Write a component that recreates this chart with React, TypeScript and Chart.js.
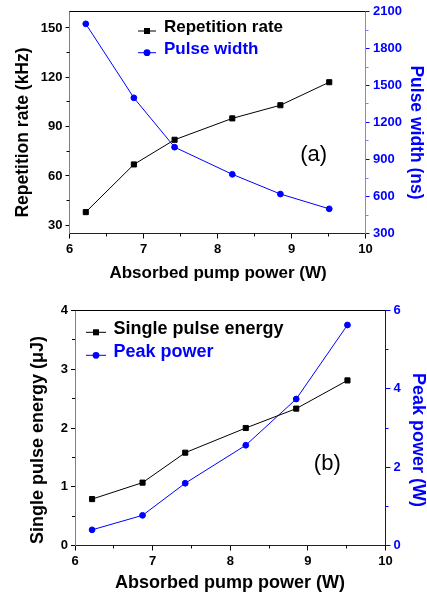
import React, { useEffect, useRef } from "react";
import { Chart, registerables } from "chart.js";

Chart.register(...registerables);

const FONT = "'Liberation Sans', Arial, Helvetica, sans-serif";
const BLUE = "#0000FF";

// ---- data ----
const pumpPower = [6.22, 6.87, 7.42, 8.2, 8.85, 9.51];
const repetitionRate = [38, 67, 82, 95, 103, 117];
const pulseWidth = [2000, 1400, 1000, 780, 620, 500];
const pulseEnergy = [0.79, 1.07, 1.58, 2.0, 2.33, 2.81];
const peakPower = [0.4, 0.77, 1.59, 2.56, 3.74, 5.63];

// ---- tick labels ----
const xTicks = [6, 7, 8, 9, 10];
const repTicks = [30, 60, 90, 120, 150];
const widthTicks = [300, 600, 900, 1200, 1500, 1800, 2100];
const energyTicks = [0, 1, 2, 3, 4];
const peakTicks = [0, 2, 4, 6];

const pts = (xs: number[], ys: number[]) => xs.map((x, i) => ({ x, y: ys[i] }));

const midpoints = (t: number[], min: number, max: number) => {
  const out: number[] = [];
  const step = t[1] - t[0];
  for (let v = t[0] - step / 2; v <= max + 1e-9; v += step) {
    if (v >= min - 1e-9) {
      if (!t.some((q) => Math.abs(q - v) < 1e-9)) out.push(v);
    }
  }
  return out;
};

const decorPlugin = {
  id: "decor",
  afterDraw(chart: any, _args: any, opts: any) {
    const { ctx, chartArea: a, scales } = chart;
    ctx.save();
    // top frame line
    ctx.strokeStyle = opts.topColor || "#000";
    ctx.lineWidth = 1;
    const ty = Math.floor(a.top) + 0.5;
    ctx.beginPath();
    ctx.moveTo(a.left, ty);
    ctx.lineTo(a.right, ty);
    ctx.stroke();

    // minor ticks
    (opts.minor || []).forEach((m: any) => {
      const s = scales[m.id];
      ctx.strokeStyle = m.color;
      ctx.lineWidth = 1;
      m.values.forEach((v: number) => {
        const p = Math.floor(s.getPixelForValue(v)) + 0.5;
        ctx.beginPath();
        if (m.side === "bottom") {
          ctx.moveTo(p, a.bottom);
          ctx.lineTo(p, a.bottom + m.len);
        } else if (m.side === "left") {
          ctx.moveTo(a.left - m.len, p);
          ctx.lineTo(a.left, p);
        } else {
          ctx.moveTo(a.right, p);
          ctx.lineTo(a.right + m.len, p);
        }
        ctx.stroke();
      });
    });

    // axis titles
    (opts.titles || []).forEach((t: any) => {
      ctx.save();
      ctx.translate(t.x, t.y);
      ctx.rotate((t.rot * Math.PI) / 180);
      ctx.font = `bold ${t.size}px ${FONT}`;
      ctx.fillStyle = t.color;
      ctx.textAlign = "center";
      ctx.textBaseline = "middle";
      ctx.fillText(t.text, 0, 0);
      ctx.restore();
    });

    // legend
    const lg = opts.legend;
    if (lg) {
      chart.data.datasets.forEach((ds: any, i: number) => {
        const r = lg.rows[i];
        ctx.strokeStyle = ds.borderColor;
        ctx.lineWidth = 1;
        ctx.beginPath();
        ctx.moveTo(lg.x1, r.y);
        ctx.lineTo(lg.x2, r.y);
        ctx.stroke();
        ctx.fillStyle = ds.backgroundColor;
        const cx = (lg.x1 + lg.x2) / 2;
        if (ds.pointStyle === "rect") {
          ctx.fillRect(cx - 3, r.y - 3, 6, 6);
        } else {
          ctx.beginPath();
          ctx.arc(cx, r.y, 3.4, 0, Math.PI * 2);
          ctx.fill();
        }
        ctx.font = `bold ${lg.size}px ${FONT}`;
        ctx.fillStyle = ds.borderColor;
        ctx.textAlign = "left";
        ctx.textBaseline = "middle";
        ctx.fillText(ds.label, lg.textX, r.textY);
      });
    }

    // panel label
    const n = opts.note;
    if (n) {
      const px = scales.x.getPixelForValue(n.x);
      const py = scales.y.getPixelForValue(n.y);
      ctx.font = `${n.size}px ${FONT}`;
      ctx.fillStyle = "#000";
      ctx.textAlign = "center";
      ctx.textBaseline = "middle";
      ctx.fillText(n.text, px, py);
    }
    ctx.restore();
  },
};

const tickFont = { family: FONT, size: 13, weight: "bold" as const };

function makeAxis(opts: {
  position: string;
  min: number;
  max: number;
  ticks: number[];
  color: string;
  borderColor: string;
  size: number;
  tickLen: number;
  pad: number;
}) {
  const isX = opts.position === "bottom";
  return {
    type: "linear",
    position: opts.position,
    min: opts.min,
    max: opts.max,
    afterBuildTicks: (s: any) => {
      s.ticks = opts.ticks.map((v) => ({ value: v }));
    },
    afterFit: (s: any) => {
      if (isX) s.height = opts.size;
      else s.width = opts.size;
    },
    ticks: {
      color: opts.color,
      font: tickFont,
      padding: opts.pad,
      maxRotation: 0,
      autoSkip: false,
      callback: (v: any) => String(v),
    },
    grid: {
      display: true,
      drawOnChartArea: false,
      drawTicks: true,
      tickLength: opts.tickLen,
      tickColor: opts.color,
      tickWidth: 1,
    },
    border: { display: true, color: opts.borderColor, width: 1 },
    title: { display: false },
  };
}

function Panel(props: { config: any; top: number; height: number }) {
  const ref = useRef<HTMLCanvasElement | null>(null);
  useEffect(() => {
    if (!ref.current) return;
    const chart = new Chart(ref.current, props.config);
    return () => chart.destroy();
  }, []);
  return (
    <div style={{ position: "absolute", left: 0, top: props.top, width: 427, height: props.height }}>
      <canvas ref={ref} width={427} height={props.height} style={{ width: 427, height: props.height, display: "block" }} />
    </div>
  );
}

const lineDs = (label: string, data: any[], color: string, style: string, axis: string) => ({
  label,
  data,
  yAxisID: axis,
  borderColor: color,
  backgroundColor: color,
  borderWidth: 1,
  pointStyle: style,
  pointRadius: style === "rect" ? 3.6 : 2.9,
  pointBorderWidth: 1,
  pointBorderColor: color,
  pointBackgroundColor: color,
  tension: 0,
  fill: false,
});

const configA = {
  type: "line",
  data: {
    datasets: [
      lineDs("Repetition rate", pts(pumpPower, repetitionRate), "#000000", "rect", "y"),
      lineDs("Pulse width", pts(pumpPower, pulseWidth), BLUE, "circle", "y2"),
    ],
  },
  options: {
    responsive: false,
    animation: false,
    devicePixelRatio: 1,
    layout: { padding: { top: 11.5, left: 0, right: 0, bottom: 0 } },
    plugins: {
      legend: { display: false },
      tooltip: { enabled: false },
      decor: {
        topColor: "#000",
        minor: [
          { id: "x", side: "bottom", color: "#000", len: 3, values: midpoints(xTicks, 6, 10) },
          { id: "y", side: "left", color: "#000", len: 3, values: midpoints(repTicks, 25, 160) },
          { id: "y2", side: "right", color: "#8080FF", len: 3, values: midpoints(widthTicks, 300, 2100) },
        ],
        titles: [
          { text: "Repetition rate (kHz)", x: 23.5, y: 132.5, rot: -90, color: "#000", size: 17.5 },
          { text: "Pulse width (ns)", x: 416, y: 132.5, rot: 90, color: BLUE, size: 17.5 },
          { text: "Absorbed pump power (W)", x: 218, y: 273, rot: 0, color: "#000", size: 17 },
        ],
        legend: {
          x1: 138,
          x2: 156,
          textX: 164,
          size: 17,
          rows: [
            { y: 31, textY: 27.5 },
            { y: 52.7, textY: 49 },
          ],
        },
        note: { text: "(a)", x: 9.3, y: 73, size: 22 },
      },
    },
    scales: {
      x: makeAxis({ position: "bottom", min: 6, max: 10, ticks: xTicks, color: "#000", borderColor: "#222", size: 56.5, tickLen: 5, pad: 3 }),
      y: makeAxis({ position: "left", min: 25, max: 160, ticks: repTicks, color: "#000", borderColor: "#808080", size: 69.5, tickLen: 4, pad: 3 }),
      y2: makeAxis({ position: "right", min: 300, max: 2100, ticks: widthTicks, color: BLUE, borderColor: "#8080FF", size: 61.5, tickLen: 4, pad: 3.5 }),
    },
  },
  plugins: [decorPlugin],
};

const configB = {
  type: "line",
  data: {
    datasets: [
      lineDs("Single pulse energy", pts(pumpPower, pulseEnergy), "#000000", "rect", "y"),
      lineDs("Peak power", pts(pumpPower, peakPower), BLUE, "circle", "y2"),
    ],
  },
  options: {
    responsive: false,
    animation: false,
    devicePixelRatio: 1,
    layout: { padding: { top: 20.5, left: 0, right: 0, bottom: 0 } },
    plugins: {
      legend: { display: false },
      tooltip: { enabled: false },
      decor: {
        topColor: "#000",
        minor: [
          { id: "x", side: "bottom", color: "#000", len: 3, values: midpoints(xTicks, 6, 10) },
          { id: "y", side: "left", color: "#000", len: 3, values: midpoints(energyTicks, 0, 4) },
          { id: "y2", side: "right", color: BLUE, len: 3, values: midpoints(peakTicks, 0, 6) },
        ],
        titles: [
          { text: "Single pulse energy (μJ)", x: 38.5, y: 150, rot: -90, color: "#000", size: 18 },
          { text: "Peak power (W)", x: 418, y: 150, rot: 90, color: BLUE, size: 18 },
          { text: "Absorbed pump power (W)", x: 230, y: 293, rot: 0, color: "#000", size: 18 },
        ],
        legend: {
          x1: 86,
          x2: 106,
          textX: 113.5,
          size: 18,
          rows: [
            { y: 42.3, textY: 39.2 },
            { y: 65.3, textY: 62.5 },
          ],
        },
        note: { text: "(b)", x: 9.25, y: 1.39, size: 22 },
      },
    },
    scales: {
      x: makeAxis({ position: "bottom", min: 6, max: 10, ticks: xTicks, color: "#000", borderColor: "#222", size: 49.5, tickLen: 5, pad: 3 }),
      y: makeAxis({ position: "left", min: 0, max: 4, ticks: energyTicks, color: "#000", borderColor: "#808080", size: 75, tickLen: 4, pad: 3 }),
      y2: makeAxis({ position: "right", min: 0, max: 6, ticks: peakTicks, color: BLUE, borderColor: BLUE, size: 41.5, tickLen: 5, pad: 3 }),
    },
  },
  plugins: [decorPlugin],
};

export default function App() {
  return (
    <div style={{ position: "absolute", left: 0, top: 0, width: 427, height: 595, background: "#fff" }}>
      <Panel config={configA} top={0} height={290} />
      <Panel config={configB} top={290} height={305} />
    </div>
  );
}
